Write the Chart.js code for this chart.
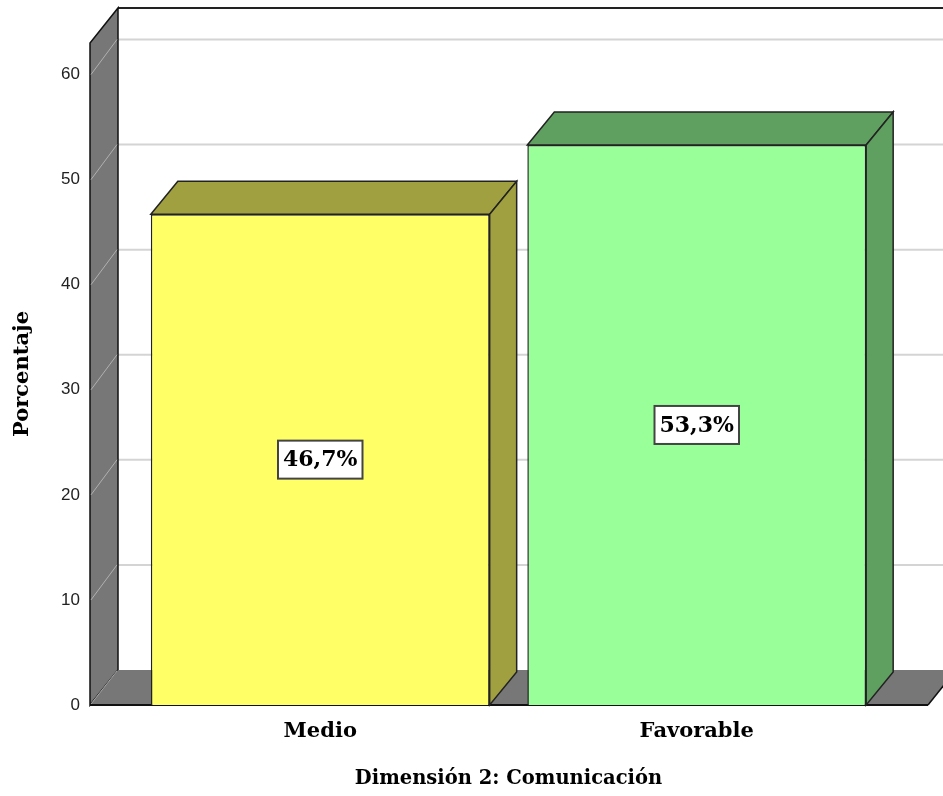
<!DOCTYPE html>
<html>
<head>
<meta charset="utf-8">
<script src="https://cdn.jsdelivr.net/npm/chart.js@4.4.1/dist/chart.umd.min.js"></script>
<style>
  html, body { margin: 0; padding: 0; background: #fff; }
  canvas { display: block; }
</style>
</head>
<body>
<canvas id="chart" width="943" height="796"></canvas>
<script>
const categories = ["Medio", "Favorable"];
const percentages = [46.7, 53.3];
const yTicks = [0, 10, 20, 30, 40, 50, 60];
const frontColors = ["#ffff66", "#99ff99"];
const shadeColors = ["#a0a040", "#5f9f5f"];

// depth offsets for the box and for the bars
const WALL = { dx: 28, dy: 35 };
const BAR = { dx: 27, dy: 33 };
// the box is wider than the category band
const BOX_LEFT_GAP = 42;
const BOX_RIGHT_GAP = 43;
const serif = "'DejaVu Serif', 'Liberation Serif', serif";

function poly(ctx, pts, fill, stroke, lw) {
  ctx.beginPath();
  ctx.moveTo(pts[0][0], pts[0][1]);
  for (let i = 1; i < pts.length; i++) ctx.lineTo(pts[i][0], pts[i][1]);
  ctx.closePath();
  if (fill) {
    ctx.fillStyle = fill;
    ctx.fill();
  }
  if (stroke) {
    ctx.strokeStyle = stroke;
    ctx.lineWidth = lw || 1.5;
    ctx.lineJoin = "miter";
    ctx.stroke();
  }
}

function line(ctx, x1, y1, x2, y2, color, lw) {
  ctx.beginPath();
  ctx.moveTo(x1, y1);
  ctx.lineTo(x2, y2);
  ctx.strokeStyle = color;
  ctx.lineWidth = lw;
  ctx.stroke();
}

const box3d = {
  id: "box3d",
  beforeDatasetsDraw(chart) {
    const { ctx, chartArea: a, scales } = chart;
    const y = scales.y;
    const left = a.left - BOX_LEFT_GAP;
    const right = a.right + BOX_RIGHT_GAP;
    const far = chart.width + 60;
    ctx.save();

    // grid lines on the back wall
    yTicks.forEach(v => {
      if (v === 0) return;
      const py = y.getPixelForValue(v) - WALL.dy;
      line(ctx, left + WALL.dx, py, far, py, "#d4d4d4", 2);
    });
    line(ctx, left + WALL.dx, a.top - WALL.dy, far, a.top - WALL.dy, "#222", 2);

    // left wall
    poly(ctx, [
      [left, a.bottom], [left, a.top],
      [left + WALL.dx, a.top - WALL.dy], [left + WALL.dx, a.bottom - WALL.dy]
    ], "#777777", "#111", 1.5);
    yTicks.forEach(v => {
      if (v === 0) return;
      const py = y.getPixelForValue(v);
      line(ctx, left + 1, py, left + WALL.dx - 1, py - WALL.dy, "#b0b0b0", 1);
    });

    // floor
    poly(ctx, [
      [left, a.bottom], [left + WALL.dx, a.bottom - WALL.dy],
      [right + WALL.dx, a.bottom - WALL.dy], [right, a.bottom]
    ], "#777777", null);
    line(ctx, left + 1, a.bottom - 1, left + WALL.dx - 1, a.bottom - WALL.dy + 1, "#a8a8a8", 1);
    line(ctx, left, a.bottom, right, a.bottom, "#111", 2);
    line(ctx, right, a.bottom, right + WALL.dx, a.bottom - WALL.dy, "#111", 1.5);

    ctx.restore();
  },
  afterDatasetsDraw(chart) {
    const ctx = chart.ctx;
    const meta = chart.getDatasetMeta(0);
    ctx.save();
    meta.data.forEach((bar, i) => {
      const { x, y, base, width } = bar.getProps(["x", "y", "base", "width"], true);
      const l = x - width / 2;
      const r = x + width / 2;
      // top and right side of each bar
      poly(ctx, [[l, y], [l + BAR.dx, y - BAR.dy], [r + BAR.dx, y - BAR.dy], [r, y]], shadeColors[i], "#222", 1.5);
      poly(ctx, [[r, y], [r + BAR.dx, y - BAR.dy], [r + BAR.dx, base - BAR.dy], [r, base]], shadeColors[i], "#222", 1.5);

      // value label in a white box
      const text = percentages[i].toFixed(1).replace(".", ",") + "%";
      ctx.font = "bold 22px " + serif;
      const tw = ctx.measureText(text).width;
      const cy = (y + base) / 2;
      const bw = tw + 10, bh = 38;
      ctx.fillStyle = "#fff";
      ctx.fillRect(x - bw / 2, cy - bh / 2, bw, bh);
      ctx.strokeStyle = "#444";
      ctx.lineWidth = 2;
      ctx.strokeRect(x - bw / 2, cy - bh / 2, bw, bh);
      ctx.fillStyle = "#000";
      ctx.textAlign = "center";
      ctx.textBaseline = "middle";
      ctx.fillText(text, x, cy + 1);
    });
    ctx.restore();
  }
};

new Chart(document.getElementById("chart"), {
  type: "bar",
  data: {
    labels: categories,
    datasets: [{
      data: percentages,
      backgroundColor: frontColors,
      borderColor: "#222",
      borderWidth: 1.5,
      barPercentage: 0.9,
      categoryPercentage: 1
    }]
  },
  options: {
    responsive: false,
    animation: false,
    devicePixelRatio: 1,
    layout: { padding: { top: 43, right: 58, bottom: 0, left: 0 } },
    plugins: {
      legend: { display: false },
      tooltip: { enabled: false }
    },
    scales: {
      x: {
        afterFit: s => { s.height = 91; },
        grid: { display: false, drawTicks: false },
        border: { display: false },
        ticks: {
          autoSkip: false,
          maxRotation: 0,
          padding: 14,
          color: "#000",
          font: { family: serif, size: 21, weight: "bold" }
        },
        title: {
          display: true,
          text: "Dimensión 2: Comunicación",
          color: "#000",
          padding: { top: 0, bottom: 5 },
          font: { family: serif, size: 19.5, weight: "bold" }
        }
      },
      y: {
        min: 0,
        max: 63,
        afterBuildTicks: s => { s.ticks = yTicks.map(v => ({ value: v })); },
        afterFit: s => {
          // labels sit left of the side wall; keep the big padding out of the vertical layout
          s.width = 132;
          s.paddingTop = 8;
          s.paddingBottom = 8;
        },
        grid: { display: false, drawTicks: false },
        border: { display: false },
        ticks: {
          padding: 52,
          color: "#222",
          font: { family: "'Liberation Sans', Arial, sans-serif", size: 17 }
        },
        title: {
          display: true,
          text: "Porcentaje",
          color: "#000",
          padding: { top: 10, bottom: 0 },
          font: { family: serif, size: 21, weight: "bold" }
        }
      }
    }
  },
  plugins: [box3d]
});
</script>
</body>
</html>
